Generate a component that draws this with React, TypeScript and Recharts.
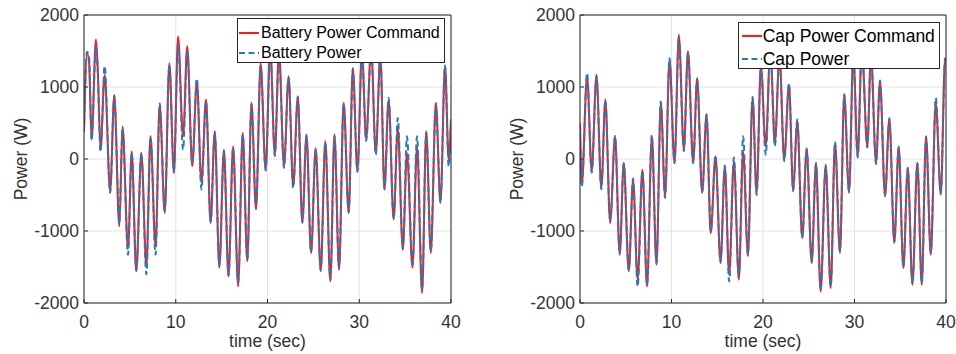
import React from 'react';
import { LineChart, Line, XAxis, YAxis, CartesianGrid, Legend } from 'recharts';

// extrema (seconds / watts)
const batteryTime = [
  0, 0.33, 0.55, 0.83, 1.3, 1.5, 1.8, 2.25, 2.85, 3.3, 3.85, 4.2, 4.8, 5.2, 5.7, 6.25, 6.8, 7.25, 7.8, 8.25,
  8.8, 9.3, 9.8, 10.25, 10.8, 11.25, 11.8, 12.3, 12.8, 13.3, 13.8, 14.25, 14.75, 15.25, 15.75, 16.25, 16.8, 17.3, 17.8, 18.25,
  18.75, 19.25, 19.8, 20.3, 20.8, 21.25, 21.8, 22.3, 22.8, 23.3, 23.8, 24.25, 24.75, 25.25, 25.8, 26.3, 26.85, 27.3, 27.8, 28.3,
  28.85, 29.3, 29.8, 30.3, 30.75, 31.3, 31.8, 32.3, 32.75, 33.2, 33.75, 34.2, 34.75, 35.2, 35.8, 36.3, 36.85, 37.3, 37.8, 38.35,
  38.85, 39.35, 39.75, 40,
];
const batteryCommand = [
  400, 1470, 1350, 270, 1660, 1250, 130, 1170, -450, 890, -935, 450, -1240, 105, -1560, 85, -1490, 315, -1210, 755,
  -750, 1330, -195, 1700, 315, 1565, -100, 1080, -330, 825, -890, 385, -1510, 130, -1630, 175, -1770, 360, -1420, 780,
  -700, 1330, -150, 1550, 60, 1500, -100, 1150, -380, 870, -890, 340, -1305, 150, -1560, 245, -1700, 340, -1540, 780,
  -750, 1265, -170, 1500, 270, 1550, 80, 1450, -425, 825, -840, 430, -1260, 85, -1510, 175, -1860, 385, -1305, 780,
  -610, 1290, -10, 545,
];
const batteryPower = [
  380, 1490, 1420, 260, 1560, 1200, 100, 1290, -470, 870, -900, 430, -1330, 80, -1550, 80, -1600, 300, -1330, 770,
  -720, 1310, -170, 1600, 130, 1500, -60, 1120, -425, 800, -870, 380, -1480, 110, -1620, 160, -1720, 340, -1400, 760,
  -690, 1300, -160, 1520, 40, 1480, -120, 1130, -400, 860, -880, 330, -1290, 130, -1540, 230, -1680, 320, -1520, 770,
  -740, 1250, -180, 1480, 250, 1530, 60, 1430, -420, 850, -830, 570, -1250, 315, -1490, 315, -1820, 370, -1280, 760,
  -600, 1300, -100, 550,
];

const capTime = [
  0, 0.2, 0.77, 1.28, 1.8, 2.33, 2.77, 3.3, 3.83, 4.34, 4.78, 5.33, 5.8, 6.3, 6.82, 7.33, 7.85, 8.36, 8.83, 9.3,
  9.78, 10.33, 10.8, 11.35, 11.8, 12.37, 12.8, 13.35, 13.83, 14.29, 14.81, 15.36, 15.83, 16.3, 16.82, 17.36, 17.83, 18.35, 18.86, 19.3,
  19.77, 20.3, 20.8, 21.3, 21.8, 22.32, 22.84, 23.3, 23.74, 24.29, 24.77, 25.32, 25.79, 26.3, 26.85, 27.4, 27.87, 28.41, 28.88, 29.4,
  29.87, 30.35, 30.8, 31.4, 31.8, 32.35, 32.79, 33.34, 33.81, 34.35, 34.83, 35.34, 35.82, 36.33, 36.87, 37.35, 37.82, 38.34, 38.88, 39.43,
  39.9, 40,
];
const capCommand = [
  500, -355, 1150, -170, 1170, -400, 825, -890, 315, -1330, -55, -1560, -290, -1675, -150, -1770, 315, -1470, 780, -520,
  1380, -55, 1725, 130, 1495, -55, 1125, -470, 615, -1030, 35, -1445, -100, -1605, -30, -1675, 105, -1350, 850, -470,
  1290, 175, 1550, 220, 1450, -10, 1030, -450, 545, -1100, 150, -1445, -55, -1840, -80, -1790, 220, -1305, 895, -470,
  1450, 35, 1550, 175, 1450, -55, 1080, -520, 570, -1165, 175, -1515, -125, -1745, -55, -1745, 315, -1330, 780, -495,
  1380, 1350,
];
const capPower = [
  400, -380, 1195, -190, 1150, -420, 810, -870, 320, -1310, -60, -1540, -270, -1770, -170, -1750, 330, -1450, 800, -540,
  1400, -60, 1680, 110, 1480, -60, 1110, -460, 620, -1010, 50, -1430, -90, -1700, 20, -1650, 315, -1330, 860, -500,
  1300, 60, 1530, 180, 1430, -30, 1050, -440, 550, -1080, 140, -1430, -60, -1820, -90, -1770, 240, -1290, 900, -450,
  1430, 20, 1530, 160, 1440, -70, 1090, -500, 560, -1150, 160, -1500, -120, -1730, -60, -1720, 310, -1310, 850, -480,
  1400, 1380,
];

const timeTicks = [0, 10, 20, 30, 40];
const powerTicks = [-2000, -1000, 0, 1000, 2000];

const FONT = '"Liberation Sans", Arial, Helvetica, sans-serif';
const AXIS = '#262626';
const TEXT = '#333333';
const GRID = '#e3e3e3';
const RED = '#ff1a1a';
const BLUE = '#2a78b4';
const DASH = '6 3.5';

const CHART_H = 354;
const PLOT_TOP = 15;
const PLOT_BOTTOM = 303;
const PLOT_LEFT = 84;

interface LegendGeom {
  left: number;
  top: number;
  width: number;
  height: number;
  fontSize: number;
  rows: number[];
  lineX: number;
  textX: number;
}

interface PanelProps {
  time: number[];
  command: number[];
  power: number[];
  names: string[];
  left: number;
  width: number;
  marginRight: number;
  yTitleX: number;
  legend: LegendGeom;
}

const XTick = (props: any) => {
  const { x, payload } = props;
  return (
    <g>
      <line x1={x} x2={x} y1={PLOT_BOTTOM} y2={PLOT_BOTTOM - 4} stroke={AXIS} />
      <text x={x} y={PLOT_BOTTOM + 25} textAnchor="middle" fontSize={17.5} fontFamily={FONT} fill={TEXT}>
        {payload.value}
      </text>
    </g>
  );
};

const YTick = (props: any) => {
  const { y, payload } = props;
  return (
    <g>
      <line x1={PLOT_LEFT} x2={PLOT_LEFT + 4} y1={y} y2={y} stroke={AXIS} />
      <text x={PLOT_LEFT - 5} y={y + 6.3} textAnchor="end" fontSize={17.5} fontFamily={FONT} fill={TEXT}>
        {payload.value}
      </text>
    </g>
  );
};

const Panel: React.FC<PanelProps> = ({ time, command, power, names, left, width, marginRight, yTitleX, legend }) => {
  const data = time.map((t, i) => ({ t, cmd: command[i], pow: power[i] }));
  // legend rows in plot order: command (solid red) then measured (dashed blue)
  const legendItems = [
    { name: names[0], color: RED, dash: undefined },
    { name: names[1], color: BLUE, dash: DASH },
  ];

  const renderLegend = () => (
    <div
      style={{
        boxSizing: 'border-box',
        position: 'relative',
        width: legend.width,
        height: legend.height,
        border: `1px solid ${AXIS}`,
        background: '#fff',
        fontFamily: FONT,
        fontSize: legend.fontSize,
        color: '#000',
      }}
    >
      {legendItems.map((item, i) => (
        <div key={item.name} style={{ position: 'absolute', left: 0, top: legend.rows[i] - 12, height: 24, width: '100%' }}>
          <svg width={22} height={24} style={{ position: 'absolute', left: legend.lineX, top: 0 }}>
            <line x1={0} x2={20} y1={12} y2={12} stroke={item.color} strokeWidth={2} strokeDasharray={item.dash} />
          </svg>
          <span style={{ position: 'absolute', left: legend.textX, top: 0, lineHeight: '24px', whiteSpace: 'nowrap' }}>
            {item.name}
          </span>
        </div>
      ))}
    </div>
  );

  return (
    <div style={{ position: 'absolute', left, top: 0 }}>
      <LineChart
        width={width}
        height={CHART_H}
        data={data}
        margin={{ top: PLOT_TOP, right: marginRight, bottom: 0, left: 0 }}
      >
        <CartesianGrid stroke={GRID} strokeWidth={1} />
        <XAxis
          dataKey="t"
          type="number"
          domain={[0, 40]}
          ticks={timeTicks}
          allowDataOverflow
          height={CHART_H - PLOT_BOTTOM}
          stroke={AXIS}
          tickLine={false}
          tick={<XTick />}
          label={(p: any) => (
            <text
              x={p.viewBox.x + p.viewBox.width / 2}
              y={347}
              textAnchor="middle"
              fontSize={17.5}
              fontFamily={FONT}
              fill={TEXT}
            >
              time (sec)
            </text>
          )}
        />
        <XAxis
          xAxisId="top"
          orientation="top"
          type="number"
          domain={[0, 40]}
          ticks={timeTicks}
          allowDataOverflow
          mirror
          tick={false}
          tickSize={4}
          stroke={AXIS}
        />
        <YAxis
          type="number"
          domain={[-2000, 2000]}
          ticks={powerTicks}
          allowDataOverflow
          width={PLOT_LEFT}
          stroke={AXIS}
          tickLine={false}
          tick={<YTick />}
          label={(p: any) => {
            const cy = p.viewBox.y + p.viewBox.height / 2;
            return (
              <text
                x={yTitleX}
                y={cy}
                transform={`rotate(-90 ${yTitleX} ${cy})`}
                textAnchor="middle"
                dominantBaseline="central"
                fontSize={17.5}
                fontFamily={FONT}
                fill={TEXT}
              >
                Power (W)
              </text>
            );
          }}
        />
        <YAxis
          yAxisId="right"
          orientation="right"
          type="number"
          domain={[-2000, 2000]}
          ticks={powerTicks}
          allowDataOverflow
          mirror
          tick={false}
          tickSize={4}
          stroke={AXIS}
        />
        <Line
          dataKey="cmd"
          name={names[0]}
          type="monotone"
          stroke={RED}
          strokeWidth={2}
          dot={false}
          isAnimationActive={false}
        />
        <Line
          dataKey="pow"
          name={names[1]}
          type="monotone"
          stroke={BLUE}
          strokeWidth={2}
          strokeDasharray={DASH}
          dot={false}
          isAnimationActive={false}
        />
        <Legend
          layout="horizontal"
          verticalAlign="middle"
          align="center"
          content={renderLegend}
          wrapperStyle={{ left: legend.left, top: legend.top, width: legend.width, height: legend.height }}
        />
      </LineChart>
    </div>
  );
};

export default function App() {
  return (
    <div style={{ position: 'absolute', left: 0, top: 0, width: 956, height: 354, background: '#fff' }}>
      <Panel
        time={batteryTime}
        command={batteryCommand}
        power={batteryPower}
        names={['Battery Power Command', 'Battery Power']}
        left={0}
        width={480}
        marginRight={29}
        yTitleX={21}
        legend={{ left: 237, top: 18, width: 208, height: 45, fontSize: 16, rows: [13.7, 34.3], lineX: 1, textX: 23 }}
      />
      <Panel
        time={capTime}
        command={capCommand}
        power={capPower}
        names={['Cap Power Command', 'Cap Power']}
        left={496}
        width={460}
        marginRight={10}
        yTitleX={21}
        legend={{ left: 242, top: 22, width: 202, height: 47, fontSize: 17.5, rows: [13, 36.3], lineX: 2.7, textX: 23.7 }}
      />
    </div>
  );
}
